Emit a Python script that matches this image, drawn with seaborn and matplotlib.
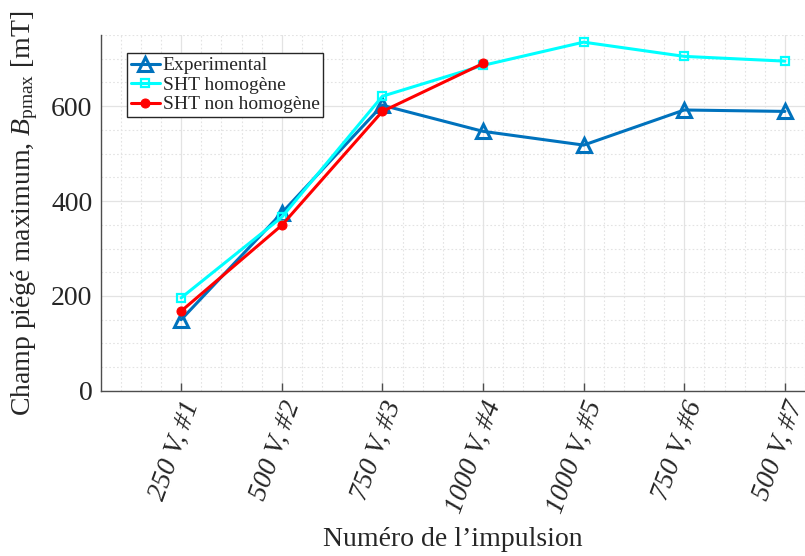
import matplotlib
matplotlib.use("Agg")
import matplotlib.pyplot as plt
import seaborn as sns
import pandas as pd
from matplotlib.ticker import MultipleLocator

# Pulse labels and trapped-field values (mT)
pulses = ["250 V, #1", "500 V, #2", "750 V, #3", "1000 V, #4",
          "1000 V, #5", "750 V, #6", "500 V, #7"]
experimental = [150, 375, 602, 547, 518, 592, 589]
sht_homogene = [196, 366, 621, 686, 735, 705, 695]
sht_non_homogene = [168, 349, 589, 690]

sns.set_theme(style="white")
plt.rcParams["font.family"] = ["Liberation Serif", "DejaVu Serif"]
plt.rcParams["mathtext.fontset"] = "custom"
plt.rcParams["mathtext.rm"] = "Liberation Serif"
plt.rcParams["mathtext.it"] = "Liberation Serif:italic"

idx = list(range(1, len(pulses) + 1))
df_exp = pd.DataFrame({"x": idx, "y": experimental})
df_hom = pd.DataFrame({"x": idx, "y": sht_homogene})
df_non = pd.DataFrame({"x": idx[:len(sht_non_homogene)], "y": sht_non_homogene})

fig = plt.figure(figsize=(8.05, 5.56), dpi=100)
ax = fig.add_axes([0.125, 0.297, 0.875, 0.640])

sns.lineplot(data=df_exp, x="x", y="y", ax=ax, color="#0072BD", lw=2.2,
             marker="^", markersize=10, markerfacecolor="none",
             markeredgecolor="#0072BD", markeredgewidth=2.2,
             label="Experimental", zorder=3)
sns.lineplot(data=df_hom, x="x", y="y", ax=ax, color="#00FFFF", lw=2.2,
             marker="s", markersize=6, markerfacecolor="none",
             markeredgecolor="#00FFFF", markeredgewidth=1.6,
             label="SHT homogène", zorder=4)
sns.lineplot(data=df_non, x="x", y="y", ax=ax, color="#FF0000", lw=2.2,
             marker="o", markersize=6.5, markerfacecolor="#FF0000",
             markeredgecolor="#FF0000",
             label="SHT non homogène", zorder=5)

ax.set_xlim(0.2, 7.2)
ax.set_ylim(0, 750)
ax.set_xticks(idx)
ax.set_xticklabels(pulses, rotation=70, fontstyle="italic", fontsize=20,
                   ha="right", va="top", rotation_mode="anchor")
ax.set_yticks([0, 200, 400, 600])
ax.tick_params(axis="y", labelsize=20, length=0, pad=6)
ax.tick_params(axis="x", direction="in", length=6, width=1.0,
               color="#4d4d4d", pad=5, bottom=True)
ax.xaxis.set_minor_locator(MultipleLocator(0.2))
ax.yaxis.set_minor_locator(MultipleLocator(50))
ax.tick_params(which="minor", length=0)

ax.grid(True, which="major", color="#e3e3e3", lw=0.9, ls="-")
ax.grid(True, which="minor", color="#e3e3e3", lw=0.8, ls=(0, (1.5, 2)))
ax.set_axisbelow(True)

for side in ["top", "right"]:
    ax.spines[side].set_visible(False)
for side in ["left", "bottom"]:
    ax.spines[side].set_color("#4d4d4d")
    ax.spines[side].set_linewidth(1.0)

ax.set_xlabel("Numéro de l’impulsion", fontsize=20, labelpad=7)
ax.set_ylabel(r"Champ piégé maximum, $B_{\mathrm{pmax}}$ [mT]", fontsize=20,
              labelpad=8)

leg = ax.legend(loc="upper left", bbox_to_anchor=(0.037, 0.95), fontsize=14,
                frameon=True, fancybox=False, borderpad=0.2,
                handlelength=1.5, handletextpad=0.15, labelspacing=0.1,
                borderaxespad=0)
leg.get_frame().set_edgecolor("#262626")
leg.get_frame().set_linewidth(1.0)
leg.get_frame().set_alpha(1)

fig.savefig("out.png", dpi=100)
